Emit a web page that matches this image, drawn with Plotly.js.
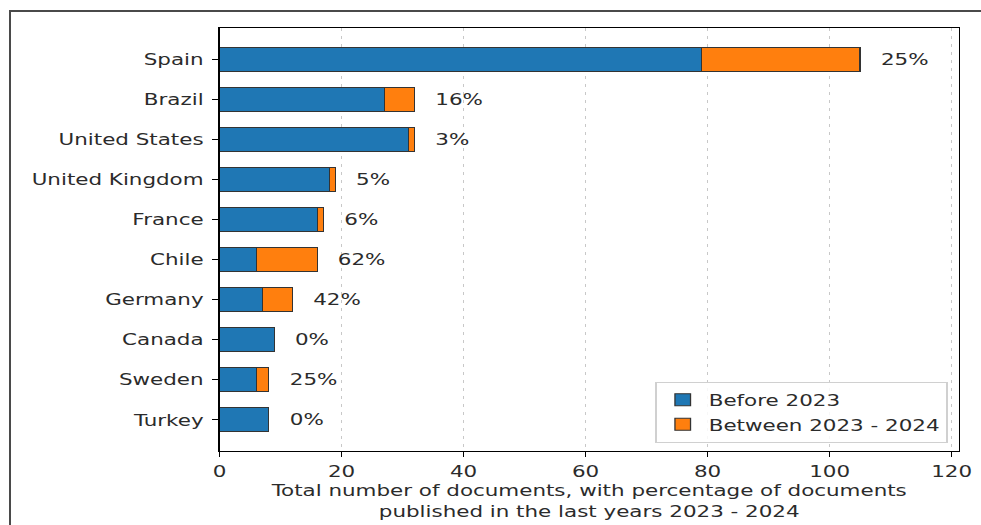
<!DOCTYPE html>
<html>
<head>
<meta charset="utf-8">
<script src="https://cdn.plot.ly/plotly-3.0.1.min.js"></script>
<style>
  html, body { margin: 0; padding: 0; background: #fff; overflow: hidden; width: 981px; height: 525px; }
  #wrap { position: absolute; left: 0; top: 0; width: 755px; height: 525px; transform: scaleX(1.2993); transform-origin: 0 0; }
  #frame { position: absolute; left: 9px; top: 10px; width: 1000px; height: 600px; border-top: 2px solid #4a4a4a; border-left: 2px solid #4a4a4a; pointer-events: none; }
</style>
</head>
<body>
<div id="wrap"><div id="chart"></div></div>
<div id="frame"></div>
<script>
const countries = ["Spain", "Brazil", "United States", "United Kingdom", "France", "Chile", "Germany", "Canada", "Sweden", "Turkey"];
const before2023 = [79, 27, 31, 18, 16, 6, 7, 9, 6, 8];
const between2023_2024 = [26, 5, 1, 1, 1, 10, 5, 0, 2, 0];
const pctLabels = ["25%", "16%", "3%", "5%", "6%", "62%", "42%", "0%", "25%", "0%"];
const xTicks = [0, 20, 40, 60, 80, 100, 120];

const textColor = "#2b2b2b";
const fs = 16.5;
const totals = before2023.map((v, i) => v + between2023_2024[i]);

const traces = [
  {
    type: "bar", orientation: "h", name: "Before 2023",
    y: countries, x: before2023,
    marker: { color: "#1f77b4", line: { color: "#333333", width: 1 } },
    hoverinfo: "x+y"
  },
  {
    type: "bar", orientation: "h", name: "Between 2023 - 2024",
    y: countries, x: between2023_2024,
    marker: { color: "#ff7f0e", line: { color: "#333333", width: 1 } },
    hoverinfo: "x+y"
  }
];

const annotations = countries.map((c, i) => ({
  x: totals[i] + 3, y: c, xref: "x", yref: "y",
  text: pctLabels[i], showarrow: false, xanchor: "left", yanchor: "middle",
  font: { family: "DejaVu Sans", size: fs, color: textColor }
}));

const layout = {
  width: 755, height: 525,
  margin: { l: 169, r: 17, t: 28, b: 74 },
  paper_bgcolor: "#ffffff", plot_bgcolor: "#ffffff",
  font: { family: "DejaVu Sans", size: fs, color: textColor },
  barmode: "stack", bargap: 0.4,
  showlegend: true,
  legend: {
    x: 0.985, y: 0.02, xanchor: "right", yanchor: "bottom",
    bgcolor: "rgba(255,255,255,0.85)", bordercolor: "#d0d0d0", borderwidth: 1,
    font: { family: "DejaVu Sans", size: fs, color: textColor },
    traceorder: "normal"
  },
  xaxis: {
    range: [0, 121.2], tickvals: xTicks, ticktext: xTicks.map(String),
    ticks: "outside", ticklen: 5, tickwidth: 1, tickcolor: "#000",
    showline: true, linecolor: "#000", linewidth: 1, mirror: true,
    showgrid: true, gridcolor: "#c8c8c8", gridwidth: 1, griddash: "3px,5px",
    zeroline: false,
    title: { text: "Total number of documents, with percentage of documents<br>published in the last years 2023 - 2024", standoff: 2,
             font: { family: "DejaVu Sans", size: fs, color: textColor } },
    tickfont: { family: "DejaVu Sans", size: fs, color: textColor }
  },
  yaxis: {
    type: "category", categoryorder: "array", categoryarray: countries,
    range: [9.78, -0.78],
    ticks: "outside", ticklen: 5, tickwidth: 1, tickcolor: "#000",
    ticklabelstandoff: 3,
    showline: true, linecolor: "#000", linewidth: 1, mirror: true,
    showgrid: false, zeroline: false,
    tickfont: { family: "DejaVu Sans", size: fs, color: textColor }
  },
  annotations: annotations
};

Plotly.newPlot("chart", traces, layout, { displayModeBar: false, staticPlot: true });
</script>
</body>
</html>
